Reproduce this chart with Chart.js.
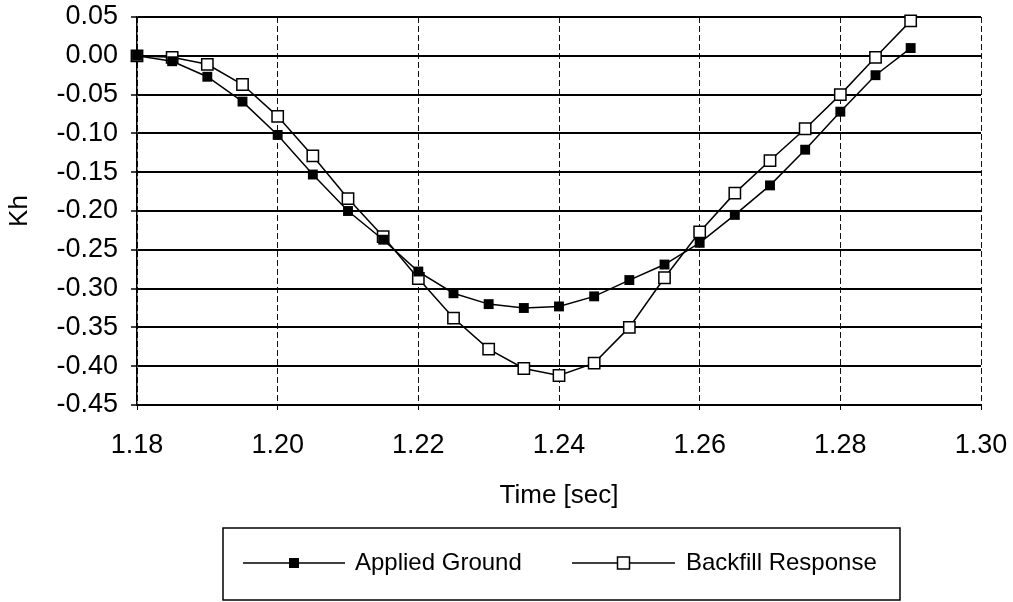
<!DOCTYPE html>
<html>
<head>
<meta charset="utf-8">
<script src="https://cdn.jsdelivr.net/npm/chart.js@4.4.1/dist/chart.umd.min.js"></script>
<style>
    html, body {margin: 0; padding: 0; background: #ffffff;}
    #wrap {width: 1013px; height: 602px;}
</style>
</head>
<body>
<div id="wrap"><canvas id="khChart" width="1013" height="602"></canvas></div>
<script>
// values
const timeSec = [1.180, 1.185, 1.190, 1.195, 1.200, 1.205, 1.210, 1.215, 1.220, 1.225, 1.230, 1.235,
    1.240, 1.245, 1.250, 1.255, 1.260, 1.265, 1.270, 1.275, 1.280, 1.285, 1.290];
const appliedGround = [0.000, -0.007, -0.027, -0.059, -0.102, -0.153, -0.200, -0.237, -0.278, -0.306, -0.320, -0.325,
    -0.323, -0.310, -0.289, -0.269, -0.241, -0.205, -0.167, -0.121, -0.072, -0.025, 0.010];
const backfillResponse = [0.000, -0.002, -0.011, -0.037, -0.078, -0.129, -0.184, -0.233, -0.287, -0.338, -0.378, -0.403,
    -0.412, -0.396, -0.350, -0.286, -0.227, -0.177, -0.135, -0.094, -0.050, -0.002, 0.045];
const seriesNames = ['Applied Ground', 'Backfill Response'];

const FONT = "'Liberation Sans', Arial, sans-serif";

const toPoints = (ys) => timeSec.map((t, i) => ({x: t, y: ys[i]}));

const fmt = (v) => {
    if (Math.abs(v) < 1e-9) return '0.00';
    return Number(v).toFixed(2);
}

// legend box under the axis title, line with a marker in the middle
const boxLegend = {
    id: 'boxLegend',
    afterDraw(chart) {
        const ctx = chart.ctx;
        const top = 528, left = 223, right = 900, bottom = 600;
        ctx.save();
        ctx.strokeStyle = '#000';
        ctx.lineWidth = 1.5;
        ctx.strokeRect(left, top, right - left, bottom - top);

        const items = [
            {x1: 243, x2: 345, text: seriesNames[0], filled: true, tx: 355},
            {x1: 572, x2: 675, text: seriesNames[1], filled: false, tx: 686}
        ];
        const y = 563;
        items.forEach((it) => {
            ctx.beginPath();
            ctx.lineWidth = 1.5;
            ctx.moveTo(it.x1, y);
            ctx.lineTo(it.x2, y);
            ctx.stroke();
            const mx = (it.x1 + it.x2) / 2;
            const s = it.filled ? 10 : 12;
            if (it.filled) {
                ctx.fillStyle = '#000';
                ctx.fillRect(mx - s / 2, y - s / 2, s, s);
            } else {
                ctx.fillStyle = '#fff';
                ctx.fillRect(mx - s / 2, y - s / 2, s, s);
                ctx.strokeRect(mx - s / 2, y - s / 2, s, s);
            }
            ctx.fillStyle = '#000';
            ctx.font = '24px ' + FONT;
            ctx.textBaseline = 'middle';
            ctx.textAlign = 'left';
            ctx.fillText(it.text, it.tx, y);
        })
        ctx.restore();
    }
}

const ctx = document.getElementById('khChart');

new Chart(ctx, {
    type: 'line',
    data: {
        datasets: [{
            label: seriesNames[0],
            data: toPoints(appliedGround),
            borderColor: '#000',
            backgroundColor: '#000',
            borderWidth: 1.5,
            pointStyle: 'rect',
            pointRadius: 7,
            pointBorderWidth: 0,
            pointBackgroundColor: '#000',
            tension: 0,
            clip: false
        },
            {
                label: seriesNames[1],
                data: toPoints(backfillResponse),
                borderColor: '#000',
                backgroundColor: '#fff',
                borderWidth: 1.5,
                pointStyle: 'rect',
                pointRadius: 8,
                pointBorderWidth: 1.5,
                pointBackgroundColor: '#fff',
                pointBorderColor: '#000',
                tension: 0,
                clip: false
            }]
    },
    options: {
        responsive: false,
        animation: false,
        events: [],
        layout: {
            padding: {top: 17, right: 32, bottom: 74, left: 0}
        },
        plugins: {
            legend: {display: false},
            tooltip: {enabled: false}
        },
        scales: {
            x: {
                type: 'linear',
                min: 1.18,
                max: 1.30,
                ticks: {
                    stepSize: 0.02,
                    color: '#000',
                    font: {family: FONT, size: 27},
                    padding: 19,
                    maxRotation: 0,
                    callback: (v) => fmt(v)
                },
                grid: {
                    color: '#111',
                    lineWidth: 1,
                    tickLength: 5,
                    tickColor: '#000'
                },
                border: {
                    color: '#000',
                    width: 2,
                    dash: [6, 3]
                },
                title: {
                    display: true,
                    text: 'Time [sec]',
                    color: '#000',
                    font: {family: FONT, size: 26},
                    padding: {top: 0, bottom: 17}
                },
                afterFit: (scale) => {
                    scale.height = 123;
                    scale.paddingLeft = 0;
                    scale.paddingRight = 0;
                }
            },
            y: {
                min: -0.45,
                max: 0.05,
                ticks: {
                    stepSize: 0.05,
                    color: '#000',
                    font: {family: FONT, size: 27},
                    padding: 13,
                    callback: (v) => fmt(v)
                },
                grid: {
                    color: '#000',
                    lineWidth: 2,
                    tickLength: 6,
                    tickColor: '#000',
                    tickWidth: 1.5
                },
                border: {
                    color: '#000',
                    width: 1.5
                },
                title: {
                    display: true,
                    text: 'Kh',
                    color: '#000',
                    font: {family: FONT, size: 26},
                    padding: {top: 4, bottom: 0}
                },
                afterFit: (scale) => {
                    scale.width = 137;
                    scale.paddingTop = 0;
                    scale.paddingBottom = 0;
                }
            }
        }
    },
    plugins: [boxLegend]
});
</script>
</body>
</html>
